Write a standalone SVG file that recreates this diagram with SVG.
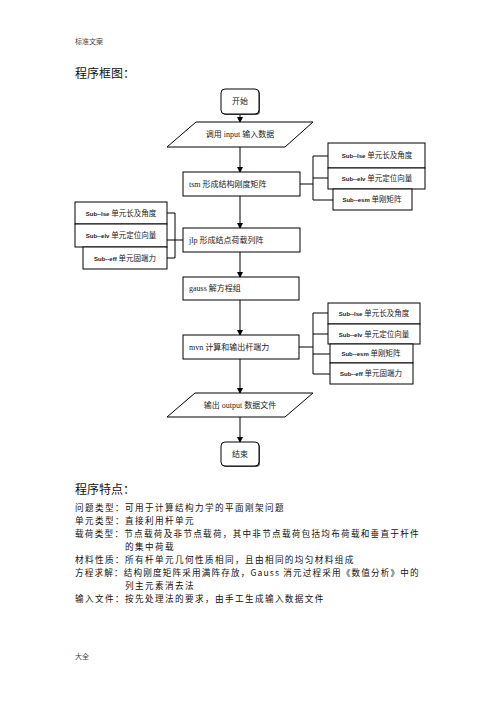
<svg xmlns="http://www.w3.org/2000/svg" width="496" height="702" viewBox="0 0 496 702">
<style>
.box{fill:#fff;stroke:#000;stroke-width:1}
.ln{fill:none;stroke:#000;stroke-width:1}
.t{font-family:"Liberation Serif","Noto Sans CJK SC",serif;font-size:8px;fill:#222}
.s{font-family:"Liberation Serif","Noto Sans CJK SC",serif;font-size:7.5px;fill:#222;text-anchor:middle}
.sl{font-family:"Liberation Sans",sans-serif;font-weight:bold;font-size:6px}
.c{text-anchor:middle}
.body{font-family:"Noto Sans CJK SC",sans-serif;font-size:8.6px;letter-spacing:1.4px;fill:#111}
.hd{font-family:"Noto Sans CJK SC",sans-serif;font-size:12px;fill:#111}
.sm{font-family:"Noto Sans CJK SC",sans-serif;font-size:7px;fill:#444}
</style>
<defs>
<marker id="ah" markerWidth="6" markerHeight="6" refX="5" refY="3" orient="auto" markerUnits="userSpaceOnUse">
<path d="M0,0 L6,3 L0,6 Z" fill="#000"/>
</marker>
</defs>
<rect width="496" height="702" fill="#fff"/>
<text class="sm" x="75" y="44">标准文案</text>
<text class="hd" x="75" y="78">程序框图：</text>

<g id="connectors">
<path class="ln" d="M240,114 V122" marker-end="url(#ah)"/>
<path class="ln" d="M240,147 V172" marker-end="url(#ah)"/>
<path class="ln" d="M240,196 V228" marker-end="url(#ah)"/>
<path class="ln" d="M240,252 V277" marker-end="url(#ah)"/>
<path class="ln" d="M240,300 V335" marker-end="url(#ah)"/>
<path class="ln" d="M240,359 V393" marker-end="url(#ah)"/>
<path class="ln" d="M240,417 V442" marker-end="url(#ah)"/>
<path class="ln" d="M300,184 H313 M313,156 V200 M313,156 H328 M313,178 H328 M313,200 H333"/>
<path class="ln" d="M183,240 H167 M175,213 V258 M167,213 H175 M167,258 H175"/>
<path class="ln" d="M299,347 H313 M313,313 V374 M313,313 H328 M313,334 H328 M313,354 H330 M313,374 H330"/>
</g>

<g id="start">
<rect x="222" y="90" width="38" height="25" rx="4" fill="#555"/>
<rect class="box" x="221" y="89" width="38" height="25" rx="4"/>
<text class="t c" x="240" y="104">开始</text>
</g>
<g id="input">
<polygon class="box" points="196,122 313,122 285,147 167,147"/>
<text class="t c" x="240" y="137">调用 input 输入数据</text>
</g>
<g id="tsm">
<rect class="box" x="183" y="172" width="117" height="24"/>
<text class="t" x="189" y="187">tsm  形成结构刚度矩阵</text>
</g>
<g id="jlp">
<rect class="box" x="183" y="228" width="117" height="24"/>
<text class="t" x="189" y="243">jlp  形成结点荷载列阵</text>
</g>
<g id="gauss">
<rect class="box" x="183" y="277" width="116" height="23"/>
<text class="t" x="189" y="291">gauss  解方程组</text>
</g>
<g id="mvn">
<rect class="box" x="183" y="335" width="116" height="24"/>
<text class="t" x="189" y="350">mvn  计算和输出杆端力</text>
</g>
<g id="output">
<polygon class="box" points="195,393 313,393 285,417 167,417"/>
<text class="t c" x="240" y="408">输出 output 数据文件</text>
</g>
<g id="end">
<rect x="222" y="443" width="38" height="24" rx="4" fill="#555"/>
<rect class="box" x="221" y="442" width="38" height="24" rx="4"/>
<text class="t c" x="240" y="457">结束</text>
</g>

<g id="tsm-sub-lse">
<rect class="box" x="328" y="143" width="97" height="25"/>
<text class="s" x="377" y="158"><tspan class="sl">Sub--lse</tspan> 单元长及角度</text>
</g>
<g id="tsm-sub-elv">
<rect class="box" x="328" y="168" width="97" height="21"/>
<text class="s" x="377" y="181"><tspan class="sl">Sub--elv</tspan> 单元定位向量</text>
</g>
<g id="tsm-sub-esm">
<rect class="box" x="333" y="189" width="79" height="21"/>
<text class="s" x="372" y="202"><tspan class="sl">Sub--esm</tspan> 单刚矩阵</text>
</g>

<g id="jlp-sub-lse">
<rect class="box" x="75" y="202" width="92" height="22"/>
<text class="s" x="121" y="216"><tspan class="sl">Sub--lse</tspan> 单元长及角度</text>
</g>
<g id="jlp-sub-elv">
<rect class="box" x="75" y="224" width="92" height="23"/>
<text class="s" x="121" y="238"><tspan class="sl">Sub--elv</tspan> 单元定位向量</text>
</g>
<g id="jlp-sub-eff">
<rect class="box" x="83" y="247" width="84" height="22"/>
<text class="s" x="125" y="261"><tspan class="sl">Sub--eff</tspan> 单元固端力</text>
</g>

<g id="mvn-sub-lse">
<rect class="box" x="328" y="303" width="92" height="21"/>
<text class="s" x="374" y="316"><tspan class="sl">Sub--lse</tspan> 单元长及角度</text>
</g>
<g id="mvn-sub-elv">
<rect class="box" x="328" y="324" width="92" height="20"/>
<text class="s" x="374" y="337"><tspan class="sl">Sub--elv</tspan> 单元定位向量</text>
</g>
<g id="mvn-sub-esm">
<rect class="box" x="330" y="344" width="83" height="19"/>
<text class="s" x="371" y="356"><tspan class="sl">Sub--esm</tspan> 单刚矩阵</text>
</g>
<g id="mvn-sub-eff">
<rect class="box" x="330" y="363" width="83" height="21"/>
<text class="s" x="371" y="376"><tspan class="sl">Sub--eff</tspan> 单元固端力</text>
</g>

<text class="hd" x="75" y="494">程序特点：</text>
<text class="body" x="75" y="511">问题类型：可用于计算结构力学的平面刚架问题</text>
<text class="body" x="75" y="524">单元类型：直接利用杆单元</text>
<text class="body" x="75" y="537" textLength="345" lengthAdjust="spacing">载荷类型：节点载荷及非节点载荷，其中非节点载荷包括均布荷载和垂直于杆件</text>
<text class="body" x="125" y="550">的集中荷载</text>
<text class="body" x="75" y="563">材料性质：所有杆单元几何性质相同，且由相同的均匀材料组成</text>
<text class="body" x="75" y="576" textLength="345" lengthAdjust="spacing">方程求解：结构刚度矩阵采用满阵存放，Gauss 消元过程采用《数值分析》中的</text>
<text class="body" x="125" y="589">列主元素消去法</text>
<text class="body" x="75" y="602">输入文件：按先处理法的要求，由手工生成输入数据文件</text>
<text class="sm" x="75" y="659">大全</text>
</svg>
